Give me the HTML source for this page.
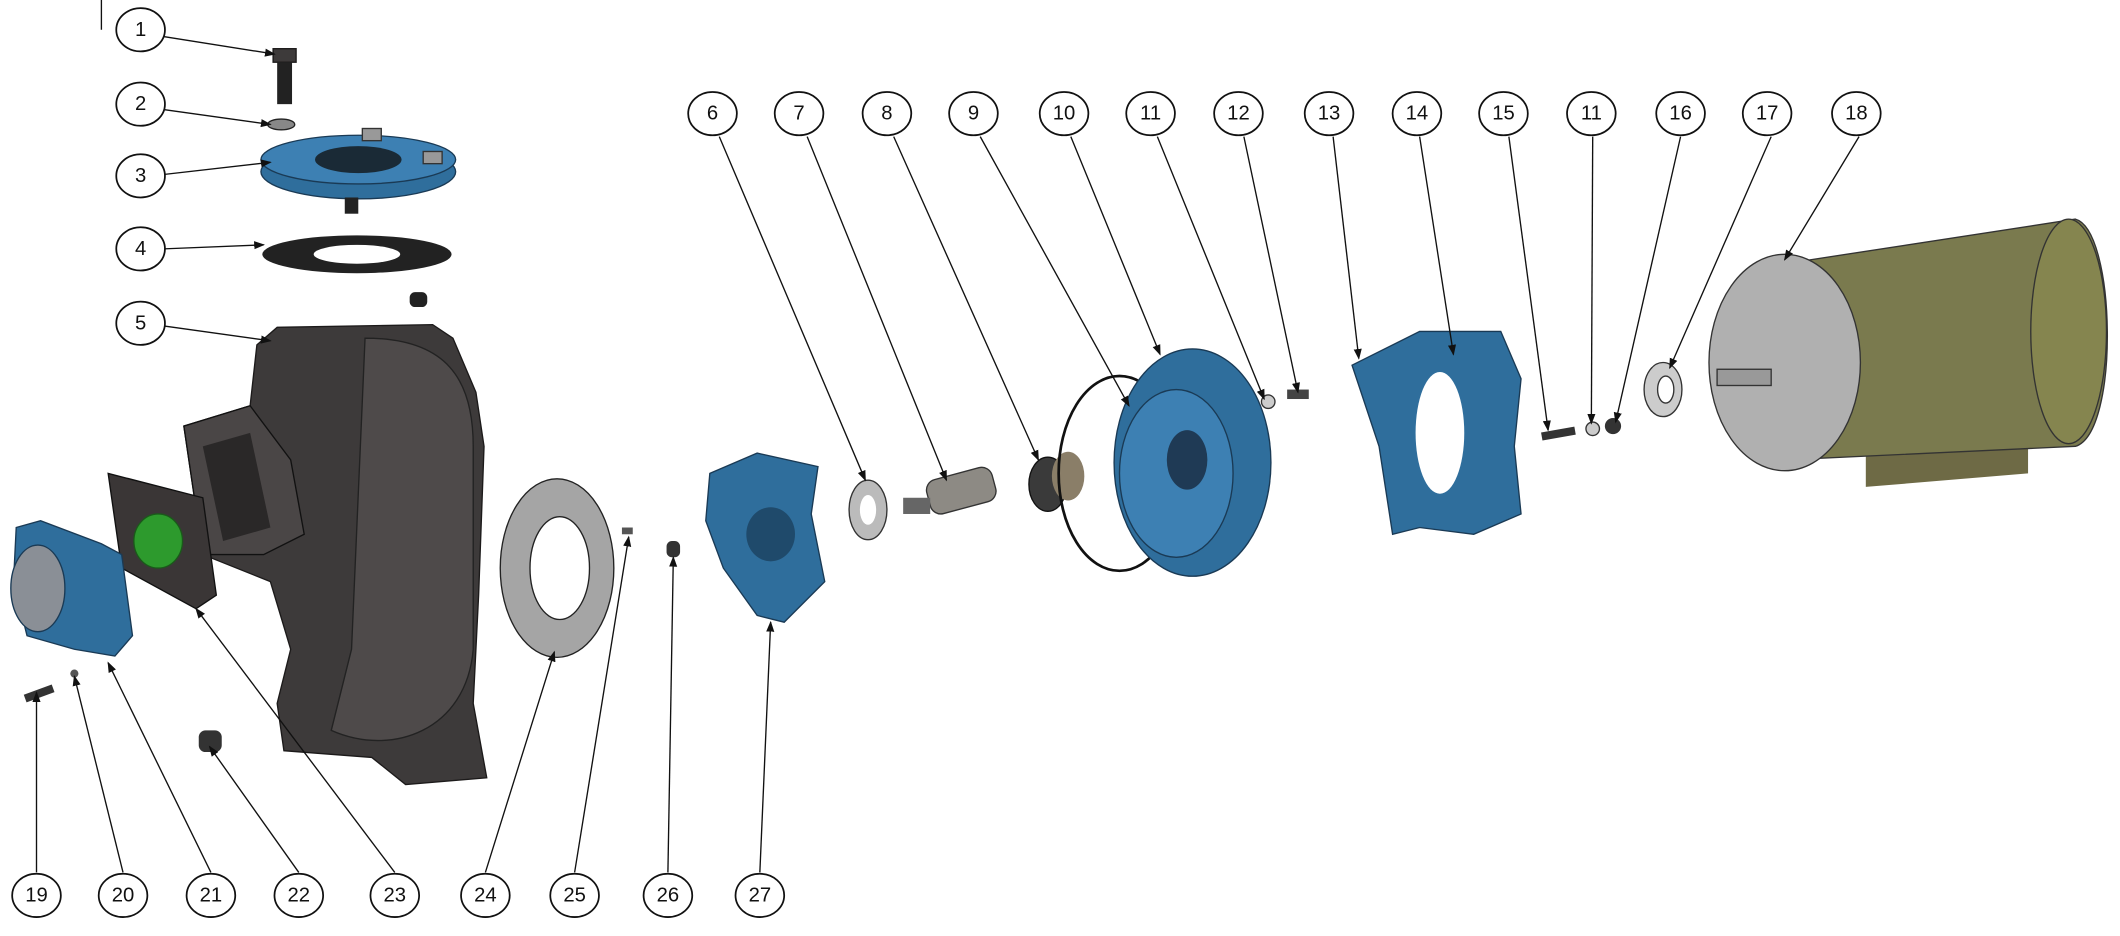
<!DOCTYPE html>
<html><head><meta charset="utf-8"><style>
html,body{margin:0;padding:0;background:#fff;width:2120px;height:936px;overflow:hidden}
svg{display:block}
text{font-family:"Liberation Sans",sans-serif;font-size:15px;text-anchor:middle;dominant-baseline:central;fill:#111}
.b{fill:#fff;stroke:#111;stroke-width:1.3}
.l{stroke:#111;stroke-width:1;fill:none}
.blue{fill:#2f6e9c;stroke:#1a3a55;stroke-width:1}
.dk{fill:#3d3a3a;stroke:#1c1a1a;stroke-width:1}
</style></head><body>
<svg width="2120" height="936" viewBox="0 0 1568 692" preserveAspectRatio="none">
<defs><marker id="a" markerWidth="8" markerHeight="8" refX="7" refY="4" orient="auto"><path d="M0,1 L8,4 L0,7z" fill="#111"/></marker></defs>
<line x1="75" y1="0" x2="75" y2="22" class="l"/>
<!-- pump parts -->
<rect x="202" y="36" width="17" height="10" class="dk"/><rect x="205" y="46" width="11" height="31" fill="#222"/>
<ellipse cx="208" cy="92" rx="10" ry="4" fill="#888" stroke="#222"/>
<ellipse cx="265" cy="127" rx="72" ry="20" class="blue"/><ellipse cx="265" cy="118" rx="72" ry="18" fill="#3d80b3" stroke="#1a3a55"/><ellipse cx="265" cy="118" rx="32" ry="10" fill="#1a2a36"/>
<rect x="255" y="146" width="10" height="12" fill="#222"/><rect x="313" y="112" width="14" height="9" fill="#999" stroke="#333"/><rect x="268" y="95" width="14" height="9" fill="#999" stroke="#333"/>
<ellipse cx="264" cy="188" rx="70" ry="14" fill="#222"/><ellipse cx="264" cy="188" rx="32" ry="7" fill="#fff"/>
<rect x="303" y="216" width="13" height="11" rx="4" fill="#222"/>
<path d="M190,255 L205,242 L320,240 L335,250 L352,290 L358,330 L354,440 L350,520 L360,575 L300,580 L275,560 L210,555 L205,520 L215,480 L200,430 L150,410 L136,315 L185,300 Z" class="dk"/>
<path d="M136,315 L185,300 L215,340 L225,395 L195,410 L150,410 Z" fill="#4a4646" stroke="#111"/>
<path d="M150,330 L185,320 L200,390 L165,400Z" fill="#2a2828"/>
<path d="M270,250 C330,250 350,280 350,330 L350,480 C345,540 290,560 245,540 L260,480 Z" fill="#4e4a4a" stroke="#222"/>
<path d="M80,350 L150,368 L160,440 L145,450 L90,420 Z" fill="#3a3636" stroke="#111"/>
<ellipse cx="117" cy="400" rx="18" ry="20" fill="#2d9a2d" stroke="#1a5a1a"/>
<path d="M12,390 L30,385 L75,402 L90,410 L98,470 L85,485 L55,480 L20,470 L10,430 Z" class="blue"/>
<ellipse cx="28" cy="435" rx="20" ry="32" fill="#8a8f96" stroke="#1a3a55"/>
<rect x="18" y="510" width="22" height="6" fill="#333" transform="rotate(-20 28 513)"/>
<circle cx="55" cy="498" r="3" fill="#555"/>
<rect x="147" y="540" width="17" height="16" rx="5" fill="#333"/>
<ellipse cx="412" cy="420" rx="42" ry="66" fill="#a5a5a5" stroke="#222"/><ellipse cx="414" cy="420" rx="22" ry="38" fill="#fff" stroke="#222"/>
<rect x="460" y="390" width="8" height="5" fill="#555"/><rect x="493" y="400" width="10" height="12" rx="4" fill="#333"/>
<path d="M525,350 L560,335 L605,345 L600,380 L610,430 L580,460 L560,455 L535,420 L522,385 Z" class="blue"/>
<ellipse cx="570" cy="395" rx="18" ry="20" fill="#1f4a6b"/>
<ellipse cx="642" cy="377" rx="14" ry="22" fill="#bbb" stroke="#333"/><ellipse cx="642" cy="377" rx="6" ry="11" fill="#fff"/>
<rect x="686" y="350" width="50" height="26" rx="8" fill="#8d8a84" stroke="#333" transform="rotate(-15 710 363)"/>
<rect x="668" y="368" width="20" height="12" fill="#666"/>
<ellipse cx="775" cy="358" rx="14" ry="20" fill="#3a3a3a" stroke="#111"/><ellipse cx="790" cy="352" rx="12" ry="18" fill="#8a7e68"/>
<ellipse cx="828" cy="350" rx="45" ry="72" fill="none" stroke="#111" stroke-width="2"/>
<ellipse cx="882" cy="342" rx="58" ry="84" class="blue"/><ellipse cx="870" cy="350" rx="42" ry="62" fill="#3d80b3" stroke="#1a3a55"/><ellipse cx="878" cy="340" rx="15" ry="22" fill="#1f3a55"/>
<circle cx="938" cy="297" r="5" fill="#ccc" stroke="#333"/><rect x="952" y="288" width="16" height="7" fill="#444"/>
<path d="M1000,270 L1050,245 L1110,245 L1125,280 L1120,330 L1125,380 L1090,395 L1050,390 L1030,395 L1020,330 Z" class="blue"/>
<ellipse cx="1065" cy="320" rx="18" ry="45" fill="#fff"/>
<rect x="1140" y="318" width="25" height="6" fill="#333" transform="rotate(-10 1150 320)"/>
<circle cx="1178" cy="317" r="5" fill="#ccc" stroke="#333"/><circle cx="1193" cy="315" r="6" fill="#333"/>
<ellipse cx="1230" cy="288" rx="14" ry="20" fill="#ccc" stroke="#333"/><ellipse cx="1232" cy="288" rx="6" ry="10" fill="#fff" stroke="#333"/>
<path d="M1380,330 L1500,330 L1500,350 L1380,360Z" fill="#6e6a45"/>
<path d="M1320,195 L1535,162 C1565,170 1568,320 1535,330 L1320,340 Z" fill="#7a7a4e" stroke="#333"/>
<ellipse cx="1530" cy="245" rx="28" ry="83" fill="#85854f" stroke="#333"/>
<ellipse cx="1320" cy="268" rx="56" ry="80" fill="#b0b0b0" stroke="#333"/>
<rect x="1270" y="273" width="40" height="12" fill="#999" stroke="#333"/>
<!-- leaders -->
<g class="l" marker-end="url(#a)">
<line x1="121" y1="27" x2="203" y2="40"/><line x1="121" y1="81" x2="200" y2="92"/><line x1="121" y1="129" x2="200" y2="120"/><line x1="121" y1="184" x2="195" y2="181"/><line x1="121" y1="241" x2="200" y2="252"/>
<line x1="532" y1="101" x2="640" y2="355"/><line x1="597" y1="101" x2="700" y2="355"/><line x1="661" y1="101" x2="768" y2="340"/><line x1="725" y1="101" x2="835" y2="300"/><line x1="792" y1="101" x2="858" y2="262"/><line x1="856" y1="101" x2="935" y2="295"/><line x1="920" y1="101" x2="960" y2="290"/><line x1="986" y1="101" x2="1005" y2="265"/><line x1="1050" y1="101" x2="1075" y2="262"/><line x1="1116" y1="101" x2="1145" y2="318"/><line x1="1178" y1="101" x2="1177" y2="313"/><line x1="1243" y1="101" x2="1195" y2="312"/><line x1="1310" y1="101" x2="1235" y2="272"/><line x1="1375" y1="101" x2="1320" y2="192"/>
<line x1="27" y1="645" x2="27" y2="512"/><line x1="91" y1="645" x2="55" y2="500"/><line x1="156" y1="645" x2="80" y2="490"/><line x1="221" y1="645" x2="155" y2="552"/><line x1="292" y1="645" x2="145" y2="450"/><line x1="359" y1="645" x2="410" y2="482"/><line x1="425" y1="645" x2="465" y2="397"/><line x1="494" y1="645" x2="498" y2="412"/><line x1="562" y1="645" x2="570" y2="460"/>
</g>
<!-- balloons -->
<g>
<ellipse class="b" cx="104" cy="22" rx="18" ry="16"/><text x="104" y="22">1</text>
<ellipse class="b" cx="104" cy="77" rx="18" ry="16"/><text x="104" y="77">2</text>
<ellipse class="b" cx="104" cy="130" rx="18" ry="16"/><text x="104" y="130">3</text>
<ellipse class="b" cx="104" cy="184" rx="18" ry="16"/><text x="104" y="184">4</text>
<ellipse class="b" cx="104" cy="239" rx="18" ry="16"/><text x="104" y="239">5</text>
<ellipse class="b" cx="527" cy="84" rx="18" ry="16"/><text x="527" y="84">6</text>
<ellipse class="b" cx="591" cy="84" rx="18" ry="16"/><text x="591" y="84">7</text>
<ellipse class="b" cx="656" cy="84" rx="18" ry="16"/><text x="656" y="84">8</text>
<ellipse class="b" cx="720" cy="84" rx="18" ry="16"/><text x="720" y="84">9</text>
<ellipse class="b" cx="787" cy="84" rx="18" ry="16"/><text x="787" y="84">10</text>
<ellipse class="b" cx="851" cy="84" rx="18" ry="16"/><text x="851" y="84">11</text>
<ellipse class="b" cx="916" cy="84" rx="18" ry="16"/><text x="916" y="84">12</text>
<ellipse class="b" cx="983" cy="84" rx="18" ry="16"/><text x="983" y="84">13</text>
<ellipse class="b" cx="1048" cy="84" rx="18" ry="16"/><text x="1048" y="84">14</text>
<ellipse class="b" cx="1112" cy="84" rx="18" ry="16"/><text x="1112" y="84">15</text>
<ellipse class="b" cx="1177" cy="84" rx="18" ry="16"/><text x="1177" y="84">11</text>
<ellipse class="b" cx="1243" cy="84" rx="18" ry="16"/><text x="1243" y="84">16</text>
<ellipse class="b" cx="1307" cy="84" rx="18" ry="16"/><text x="1307" y="84">17</text>
<ellipse class="b" cx="1373" cy="84" rx="18" ry="16"/><text x="1373" y="84">18</text>
<ellipse class="b" cx="27" cy="662" rx="18" ry="16"/><text x="27" y="662">19</text>
<ellipse class="b" cx="91" cy="662" rx="18" ry="16"/><text x="91" y="662">20</text>
<ellipse class="b" cx="156" cy="662" rx="18" ry="16"/><text x="156" y="662">21</text>
<ellipse class="b" cx="221" cy="662" rx="18" ry="16"/><text x="221" y="662">22</text>
<ellipse class="b" cx="292" cy="662" rx="18" ry="16"/><text x="292" y="662">23</text>
<ellipse class="b" cx="359" cy="662" rx="18" ry="16"/><text x="359" y="662">24</text>
<ellipse class="b" cx="425" cy="662" rx="18" ry="16"/><text x="425" y="662">25</text>
<ellipse class="b" cx="494" cy="662" rx="18" ry="16"/><text x="494" y="662">26</text>
<ellipse class="b" cx="562" cy="662" rx="18" ry="16"/><text x="562" y="662">27</text>
</g>
</svg>
</body></html>
